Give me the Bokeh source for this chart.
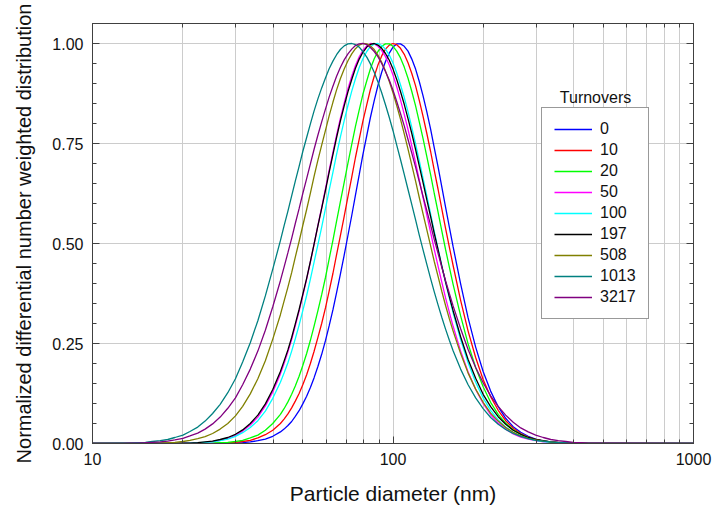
from bokeh.plotting import figure
from bokeh.models import (Legend, LegendItem, LogAxis, LinearAxis, FixedTicker,
                          SingleIntervalTicker, NumeralTickFormatter, Label, Range1d)
from bokeh.embed import file_html
from bokeh.resources import INLINE

# ---------------- data ----------------
turnovers = ["0", "10", "20", "50", "100", "197", "508", "1013", "3217"]
colors = ["#0000ff", "#ff0000", "#00ff00", "#ff00ff", "#00ffff", "#000000",
          "#808000", "#008080", "#800080"]

diameter_nm = [10.0,
               12.6, 13.3, 14.1, 15.0, 15.8, 16.8, 17.8, 18.8, 20.0, 21.1,
               22.4, 23.7, 25.1, 26.6, 28.2, 29.9, 31.6, 33.5, 35.5, 37.6, 39.8,
               42.2, 43.4, 44.7, 46.0, 47.3, 48.7, 50.1, 51.6, 53.1, 54.6,
               56.2, 57.9, 59.6, 61.3, 63.1, 64.9, 66.8, 68.8, 70.8, 72.9,
               75.0, 77.2, 79.4, 81.8, 84.1, 86.6, 89.1, 91.7, 94.4, 97.2,
               100.0, 102.9, 105.9, 109.0, 112.2, 115.5, 118.9, 122.3, 125.9, 129.6,
               133.4, 137.2, 141.3, 145.4, 149.6, 154.0,
               158.5, 167.9, 177.8, 188.4, 199.5, 211.3, 223.9, 237.1, 251.2, 266.1,
               281.8, 298.5, 316.2, 335.0, 354.8, 375.8, 398.1, 421.7, 446.7, 473.2, 501.2,
               1000.0]

# normalized distribution, in thousandths of each curve's peak
t0 = [0,
      0, 0, 0, 0, 0, 0, 0, 0, 0, 0, 0, 0, 0, 0, 1, 1, 2, 4, 7, 11, 18,
      29, 36, 45, 55, 68, 82, 99, 118, 140, 164,
      192, 223, 257, 294, 334, 377, 423, 471, 520, 570,
      621, 672, 722, 770, 815, 857, 895, 928, 955, 976,
      991, 999, 999, 993, 981, 961, 936, 905, 869, 829,
      786, 739, 691, 641, 591, 541,
      492, 399, 314, 241, 180, 131, 92, 63, 42, 28,
      18, 11, 6, 4, 2, 1, 1, 0, 0, 0, 0,
      0]
t10 = [0,
       0, 0, 0, 0, 0, 0, 0, 0, 0, 0, 0, 0, 0, 1, 2, 3, 5, 8, 14, 22, 33,
       50, 61, 74, 89, 106, 125, 147, 172, 200, 230,
       264, 300, 339, 381, 425, 472, 519, 568, 617, 666,
       715, 761, 806, 847, 885, 918, 946, 969, 986, 996,
       1000, 997, 988, 973, 952, 925, 894, 858, 818, 775,
       730, 683, 635, 586, 538, 491,
       445, 358, 281, 215, 160, 117, 83, 57, 38, 25,
       16, 10, 6, 4, 2, 1, 1, 0, 0, 0, 0,
       0]
t20 = [0,
       0, 0, 0, 0, 0, 0, 0, 0, 0, 0, 0, 0, 1, 2, 3, 5, 8, 14, 21, 33, 50,
       73, 87, 104, 123, 144, 168, 195, 225, 258, 293,
       331, 372, 415, 461, 508, 556, 604, 653, 701, 748,
       793, 834, 873, 907, 937, 962, 980, 993, 999, 999,
       993, 981, 964, 941, 913, 880, 844, 804, 762, 717,
       672, 625, 578, 531, 485, 441,
       398, 319, 249, 190, 142, 103, 73, 51, 34, 23,
       15, 9, 6, 3, 2, 1, 1, 0, 0, 0, 0,
       0]
t50 = [0,
       0, 0, 0, 0, 0, 0, 0, 0, 1, 1, 2, 3, 5, 8, 13, 20, 31, 46, 66, 94, 129,
       174, 200, 229, 260, 294, 331, 370, 411, 454, 498,
       544, 590, 637, 683, 728, 771, 813, 851, 887, 918,
       945, 967, 983, 994, 1000, 999, 993, 982, 967, 946,
       921, 892, 859, 823, 785, 744, 702, 659, 615, 571,
       528, 485, 443, 403, 364, 328,
       293, 231, 179, 135, 100, 72, 51, 36, 24, 16,
       11, 7, 4, 3, 2, 1, 1, 0, 0, 0, 0,
       0]
t100 = [0,
        0, 0, 0, 0, 0, 0, 0, 0, 0, 1, 2, 3, 4, 7, 11, 18, 27, 40, 57, 81, 113,
        153, 176, 202, 231, 262, 296, 332, 370, 411, 453,
        496, 541, 587, 633, 678, 723, 766, 807, 845, 881,
        912, 940, 962, 980, 992, 999, 1000, 995, 986, 971,
        951, 926, 897, 865, 829, 790, 749, 707, 663, 619,
        574, 530, 486, 444, 403, 364,
        327, 260, 202, 153, 114, 83, 59, 41, 28, 19,
        12, 8, 5, 3, 2, 1, 1, 0, 0, 0, 0,
        0]
t197 = [0,
        0, 0, 0, 0, 0, 0, 0, 0, 1, 1, 2, 4, 6, 10, 15, 23, 34, 50, 71, 99, 135,
        180, 206, 234, 265, 299, 335, 373, 413, 455, 498,
        543, 588, 633, 678, 722, 765, 806, 844, 879, 910,
        938, 961, 978, 991, 998, 1000, 996, 988, 975, 958,
        936, 910, 880, 848, 812, 775, 735, 694, 652, 609,
        567, 525, 484, 443, 404, 367,
        332, 267, 210, 163, 123, 92, 67, 48, 33, 23,
        15, 10, 7, 4, 3, 2, 1, 1, 0, 0, 0,
        0]
t508 = [0,
        0, 0, 0, 0, 1, 1, 2, 3, 5, 8, 12, 17, 25, 36, 50, 69, 93, 124, 162, 207, 261,
        322, 356, 391, 427, 466, 505, 545, 585, 626, 667,
        707, 746, 783, 819, 853, 884, 912, 936, 957, 974,
        987, 996, 1000, 999, 994, 985, 971, 953, 931, 905,
        877, 845, 811, 774, 736, 696, 656, 615, 574, 534,
        494, 455, 417, 380, 345, 312,
        281, 225, 176, 136, 103, 76, 56, 40, 28, 19,
        13, 9, 6, 4, 2, 1, 1, 1, 0, 0, 0,
        0]
t1013 = [0,
         1, 1, 2, 3, 5, 7, 10, 15, 21, 30, 41, 56, 75, 98, 127, 162, 204, 252, 307, 369, 436,
         507, 544, 581, 619, 656, 693, 730, 765, 799, 831,
         861, 889, 914, 937, 956, 972, 985, 994, 999, 1000,
         997, 991, 980, 966, 949, 928, 904, 877, 847, 815,
         782, 746, 710, 673, 635, 597, 559, 521, 484, 448,
         412, 379, 346, 315, 286, 258,
         232, 186, 147, 114, 87, 65, 48, 35, 25, 18,
         12, 8, 6, 4, 2, 2, 1, 1, 0, 0, 0,
         0]
t3217 = [0,
         0, 1, 1, 2, 3, 4, 6, 9, 13, 19, 26, 36, 49, 66, 88, 114, 147, 186, 231, 283, 342,
         407, 441, 477, 513, 550, 587, 625, 662, 699, 735,
         770, 804, 836, 866, 893, 918, 940, 959, 974, 986,
         995, 999, 1000, 997, 990, 980, 967, 950, 930, 908,
         883, 855, 825, 794, 760, 726, 691, 655, 618, 582,
         546, 510, 475, 440, 407, 375,
         344, 287, 235, 190, 152, 119, 93, 71, 53, 39,
         29, 21, 15, 10, 7, 5, 3, 2, 1, 1, 1,
         0]
series = [t0, t10, t20, t50, t100, t197, t508, t1013, t3217]

x_major = [10, 100, 1000]
x_minor = [20, 30, 40, 50, 60, 70, 80, 90, 200, 300, 400, 500, 600, 700, 800, 900]

# ---------------- figure ----------------
FONT = "Liberation Sans"
EDGE = "#404040"
p = figure(width=715, height=508, x_axis_type="log",
           x_range=Range1d(10, 1000), y_range=Range1d(0, 1.05),
           output_backend="svg", toolbar_location=None,
           min_border_left=92, min_border_right=22, min_border_top=23, min_border_bottom=65)
p.outline_line_color = EDGE
xt = FixedTicker(ticks=x_major, minor_ticks=x_minor)
yt = SingleIntervalTicker(interval=0.25, num_minor_ticks=5)
p.xaxis.ticker = xt
p.xaxis.formatter = NumeralTickFormatter(format="0")
p.yaxis.ticker = yt
p.yaxis.formatter = NumeralTickFormatter(format="0.00")
for ax in (p.xaxis[0], p.yaxis[0]):
    ax.major_tick_in = 7
    ax.major_tick_out = 0
    ax.minor_tick_in = 4
    ax.minor_tick_out = 0
    ax.axis_line_color = EDGE
    ax.major_tick_line_color = EDGE
    ax.minor_tick_line_color = EDGE
    ax.major_label_text_font = FONT
    ax.major_label_text_font_size = "16px"
    ax.major_label_text_color = "#111111"
    ax.axis_label_text_font = FONT
    ax.axis_label_text_font_size = "20px"
    ax.axis_label_text_font_style = "normal"
    ax.axis_label_text_color = "#111111"
p.xaxis.axis_label_text_font_size = "21px"
p.xaxis.axis_label = "Particle diameter (nm)"
p.yaxis.axis_label = "Normalized differential number weighted distribution"
p.xaxis.major_label_standoff = 9
p.xaxis.axis_label_standoff = 14
p.yaxis.major_label_standoff = 9
p.yaxis.axis_label_standoff = 14

top = LogAxis(ticker=xt, major_label_text_font_size="1px", major_label_text_alpha=0,
              major_label_standoff=0,
              major_tick_in=7, major_tick_out=0, minor_tick_in=4, minor_tick_out=0,
              axis_line_color=EDGE, major_tick_line_color=EDGE, minor_tick_line_color=EDGE)
right = LinearAxis(ticker=yt, major_label_text_font_size="1px", major_label_text_alpha=0,
                   major_label_standoff=0,
                   major_tick_in=7, major_tick_out=0, minor_tick_in=4, minor_tick_out=0,
                   axis_line_color=EDGE, major_tick_line_color=EDGE, minor_tick_line_color=EDGE)
p.add_layout(top, "above")
p.add_layout(right, "right")

p.xgrid.grid_line_color = "#cccccc"
p.xgrid.minor_grid_line_color = "#cccccc"
p.ygrid.grid_line_color = "#cccccc"

items = []
for name, col, vals in zip(turnovers, colors, series):
    assert len(vals) == len(diameter_nm), name
    r = p.line(diameter_nm, [v / 1000 for v in vals], line_color=col, line_width=1.3)
    items.append(LegendItem(label=name, renderers=[r]))

legend = Legend(items=items, location=(449, 124), label_text_font=FONT,
                label_text_font_size="16px", label_text_color="#111111",
                label_height=18, glyph_height=18, glyph_width=38, spacing=3,
                padding=12, margin=0, label_standoff=8,
                border_line_color="#333333", border_line_width=1,
                background_fill_color="white", background_fill_alpha=1)
p.add_layout(legend)
p.add_layout(Label(x=472, y=0.865, text="Turnovers", text_align="center",
                   text_baseline="middle", text_font=FONT, text_font_size="16px",
                   text_color="#111111"))

open("out.html", "w").write(file_html(p, INLINE))
